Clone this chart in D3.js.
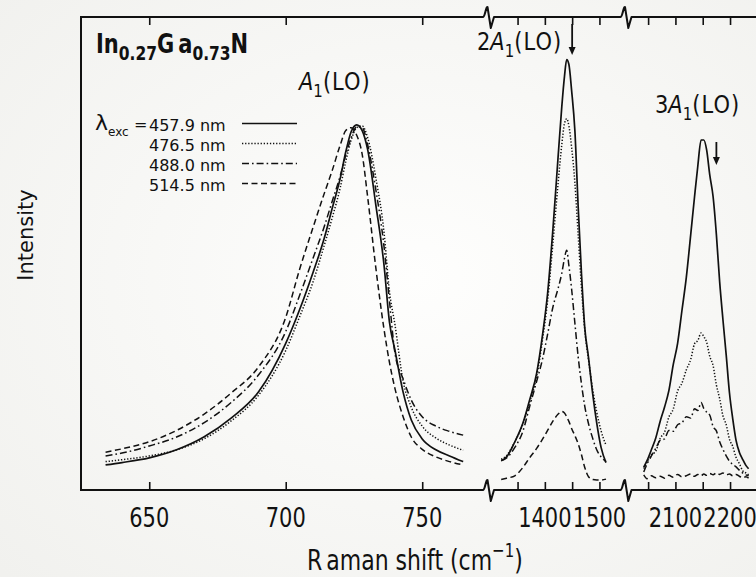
<!DOCTYPE html>
<html>
<head>
<meta charset="utf-8">
<script src="https://cdn.jsdelivr.net/npm/d3@7"></script>
<style>
  html, body { margin: 0; padding: 0; background: #f7f7f5; }
  svg { display: block; }
  text { font-family: "DejaVu Sans", sans-serif; fill: #111; }
</style>
</head>
<body>
<svg id="chart" width="756" height="577"></svg>
<script>
// ---- Raman spectra of In0.27Ga0.73N for four excitation wavelengths ----

// excitation lines (legend)
const excitation = ["457.9 nm", "476.5 nm", "488.0 nm", "514.5 nm"];

// A1(LO) region: Raman shift (cm-1) and intensities (arb. units, 0-100)
const shiftA1 = [634, 640, 650, 660, 670, 680, 690, 700, 705, 710, 714, 717, 720, 722,
                 724, 726, 728, 730, 733, 736, 738, 740, 743, 746, 750, 755, 760, 765];
const a1_4579 = [5.3, 5.8, 6.8, 8.5, 11.2, 15.2, 20.7, 31.0, 38.0, 46.0, 53.0, 59.5, 66.0, 71.5,
                 75.8, 77.2, 76.0, 72.0, 60.3, 47.6, 35.5, 29.6, 20.7, 14.8, 10.8, 8.5, 7.2, 6.0];
const a1_4765 = [6.0, 6.4, 7.2, 8.5, 10.8, 14.6, 20.0, 29.5, 36.5, 44.0, 51.5, 57.5, 64.0, 69.5,
                 74.0, 76.6, 77.0, 74.5, 66.0, 54.5, 42.0, 35.0, 23.0, 17.5, 13.5, 11.0, 9.5, 8.4];
const a1_4880 = [7.2, 7.8, 9.3, 11.2, 14.2, 18.5, 24.3, 33.5, 41.0, 49.0, 55.5, 61.0, 66.5, 70.8,
                 74.5, 76.8, 76.6, 73.0, 63.5, 51.5, 40.0, 29.0, 23.5, 19.0, 15.5, 13.5, 12.4, 11.6];
const a1_5145 = [8.0, 8.7, 10.2, 12.6, 16.0, 20.5, 26.0, 36.5, 46.5, 55.5, 62.5, 67.5, 73.0, 76.0,
                 76.6, 75.0, 71.0, 62.0, 47.0, 34.0, 27.0, 21.5, 15.5, 11.2, 8.6, 7.0, 6.0, 5.3];

// 2A1(LO) region
const shift2A1 = [1320, 1330, 1345, 1360, 1372, 1385, 1396, 1405, 1415, 1424, 1431, 1436,
                  1440, 1444, 1449, 1455, 1461, 1467, 1473, 1480, 1488, 1495, 1503, 1512];
const b_4579 = [6.2, 7.0, 10.2, 14.2, 19.0, 24.7, 33.0, 41.5, 55.5, 70.0, 81.0, 87.5,
                91.0, 90.0, 84.5, 76.0, 60.0, 46.0, 34.5, 28.0, 20.0, 14.2, 9.0, 5.8];
const b_4765 = [6.5, 7.3, 10.2, 14.0, 18.5, 24.0, 32.0, 40.0, 52.5, 64.5, 73.0, 77.5,
                78.5, 77.0, 72.5, 65.0, 54.0, 43.0, 34.0, 27.5, 21.0, 16.5, 12.5, 9.5];
const b_4880 = [6.2, 6.8, 9.0, 12.5, 17.6, 23.0, 27.8, 32.9, 38.8, 42.5, 45.8, 49.0,
                50.7, 47.5, 42.5, 35.3, 28.2, 22.5, 17.8, 14.0, 10.8, 8.5, 7.0, 6.0];
const b_5145 = [2.2, 2.5, 3.0, 4.8, 6.8, 8.8, 10.8, 12.6, 14.6, 16.0, 16.6, 16.3,
                15.5, 14.5, 13.0, 11.5, 9.8, 7.5, 4.8, 2.8, 2.2, 2.1, 2.1, 2.3];

// 3A1(LO) region
const shift3A1 = [2042, 2048, 2056, 2064, 2072, 2080, 2088, 2096, 2104, 2112, 2120, 2128, 2135, 2141, 2147,
                  2152, 2157, 2163, 2169, 2175, 2181, 2187, 2193, 2199, 2205, 2211, 2217, 2223, 2229, 2234];
const c_4579 = [4.8, 6.2, 8.5, 11.0, 14.5, 17.5, 21.0, 26.5, 31.0, 38.0, 45.0, 54.0, 62.0, 68.5, 74.0,
                74.0, 72.0, 66.5, 62.0, 54.0, 44.0, 36.0, 28.5, 20.5, 15.0, 10.5, 8.0, 6.5, 5.2, 4.5];
const c_4765 = [4.5, 5.8, 7.4, 8.2, 10.9, 12.2, 15.4, 17.1, 20.9, 22.6, 25.4, 27.6, 30.9, 31.6, 33.2,
                32.4, 31.3, 28.2, 26.3, 22.2, 19.3, 15.7, 13.8, 10.7, 9.2, 6.9, 5.6, 4.1, 3.6, 3.2];
const c_4880 = [3.8, 5.5, 7.2, 8.8, 10.5, 10.8, 12.6, 12.4, 13.8, 14.2, 15.5, 15.2, 17.2, 16.8, 18.5,
                17.2, 16.5, 15.8, 13.4, 12.5, 10.2, 8.6, 7.2, 6.1, 5.4, 4.9, 4.2, 3.6, 3.2, 3.0];
const c_5145 = [3.2, 2.4, 3.0, 2.6, 2.9, 2.5, 3.1, 2.7, 3.3, 2.8, 3.0, 3.4, 2.9, 3.3, 3.0,
                3.4, 3.1, 3.5, 3.2, 3.6, 3.3, 3.6, 3.2, 3.4, 3.0, 3.3, 2.9, 2.6, 2.8, 2.5];

// axis ticks per segment (labelled and unlabelled)
const ticksA1 = [650, 700, 750];
const ticks2A1 = [1350, 1400, 1450, 1500];
const ticks3A1 = [2050, 2100, 2150, 2200, 2250];
const labels2A1 = [1400, 1500];
const labels3A1 = [2100, 2200];

// ---------------------------------------------------------------------
const W = 756, H = 577;
const svg = d3.select("#chart");
const defs = svg.append("defs");
const bg = defs.append("radialGradient").attr("id", "bg")
  .attr("cx", "55%").attr("cy", "48%").attr("r", "75%");
bg.append("stop").attr("offset", "0%").attr("stop-color", "#fefefd");
bg.append("stop").attr("offset", "100%").attr("stop-color", "#f1f1ee");
svg.append("rect").attr("width", W).attr("height", H).attr("fill", "url(#bg)");

const yTop = 17, yBot = 490, xLeft = 81;
const y = d3.scaleLinear().domain([0, 100]).range([yBot, yTop]);

const segments = [
  { x: d3.scaleLinear().domain([625, 773]).range([81, 485]), shift: shiftA1,
    series: [a1_4579, a1_4765, a1_4880, a1_5145], ticks: ticksA1, labels: ticksA1 },
  { x: d3.scaleLinear().domain([1305, 1545]).range([493, 624]), shift: shift2A1,
    series: [b_4579, b_4765, b_4880, b_5145], ticks: ticks2A1, labels: labels2A1 },
  { x: d3.scaleLinear().domain([2015, 2275]).range([629, 771]), shift: shift3A1,
    series: [c_4579, c_4765, c_4880, c_5145], ticks: ticks3A1, labels: labels3A1 }
];

const styles = [
  { dash: null, width: 1.7 },
  { dash: "1.3,1.8", width: 1.5 },
  { dash: "7,3,1.6,3", width: 1.5 },
  { dash: "6,3.5", width: 1.5 }
];

// spectra
segments.forEach(seg => {
  const g = svg.append("g");
  seg.series.forEach((vals, k) => {
    const line = d3.line()
      .x((d, i) => seg.x(seg.shift[i]))
      .y(d => y(d))
      .curve(d3.curveMonotoneX);
    g.append("path")
      .attr("d", line(vals))
      .attr("fill", "none")
      .attr("stroke", "#111")
      .attr("stroke-width", styles[k].width)
      .attr("stroke-dasharray", styles[k].dash)
      .attr("stroke-linejoin", "round");
  });
});

// frame: broken horizontal axes, left axis
const breaks = [
  (segments[0].x.range()[1] + segments[1].x.range()[0]) / 2,
  (segments[1].x.range()[1] + segments[2].x.range()[0]) / 2
];
function brokenAxis(y0) {
  let p = `M${xLeft},${y0}`;
  breaks.forEach(cx => {
    p += `L${cx - 6},${y0} C${cx - 4},${y0} ${cx - 3},${y0 - 11} ${cx - 1.5},${y0 - 10}`;
    p += ` L${cx + 1.8},${y0 + 11} L${cx + 5},${y0}`;
  });
  p += `L${W + 10},${y0}`;
  return p;
}
[yBot, yTop].forEach(y0 => {
  svg.append("path").attr("d", brokenAxis(y0))
    .attr("fill", "none").attr("stroke", "#111").attr("stroke-width", 2)
    .attr("stroke-linejoin", "round");
});
svg.append("line").attr("x1", xLeft).attr("x2", xLeft).attr("y1", yTop - 1).attr("y2", yBot + 1)
  .attr("stroke", "#111").attr("stroke-width", 2);

// inward ticks on bottom and top
segments.forEach(seg => {
  const bottom = svg.append("g").attr("transform", `translate(0,${yBot})`)
    .call(d3.axisBottom(seg.x).tickValues(seg.ticks).tickSize(-8).tickFormat(""));
  const top = svg.append("g").attr("transform", `translate(0,${yTop})`)
    .call(d3.axisTop(seg.x).tickValues(seg.ticks).tickSize(-8).tickFormat(""));
  [bottom, top].forEach(a => {
    a.select(".domain").remove();
    a.selectAll(".tick line").attr("stroke", "#111").attr("stroke-width", 1.6);
  });
  // tick labels
  seg.labels.forEach(v => {
    svg.append("text")
      .attr("transform", `translate(${seg.x(v)},527) scale(1,1.3)`)
      .attr("text-anchor", "middle")
      .attr("font-size", 21)
      .text(v);
  });
});

// axis titles
const xt = svg.append("text")
  .attr("transform", "translate(307,570) scale(1,1.3)")
  .attr("font-size", 22);
xt.append("tspan").text("R");
xt.append("tspan").attr("dx", 4).text("aman shift (cm");
xt.append("tspan").attr("font-size", 15).attr("dy", -10).text("−1");
xt.append("tspan").attr("dy", 10).text(")");

svg.append("text")
  .attr("transform", "translate(33,235) rotate(-90)")
  .attr("text-anchor", "middle")
  .attr("font-size", 21)
  .text("Intensity");

// sample composition
const title = svg.append("text")
  .attr("transform", "translate(96,53) scale(1,1.3)")
  .attr("font-size", 21).attr("font-weight", "bold");
title.append("tspan").text("In");
title.append("tspan").attr("font-size", 15.5).attr("dy", 5).text("0.27");
title.append("tspan").attr("dy", -5).text("G");
title.append("tspan").attr("dx", 4).text("a");
title.append("tspan").attr("font-size", 15.5).attr("dy", 5).text("0.73");
title.append("tspan").attr("dy", -5).text("N");

// legend
const lam = svg.append("text").attr("x", 95).attr("y", 130).attr("font-size", 22);
lam.append("tspan").text("λ");
lam.append("tspan").attr("font-size", 12).attr("dy", 6).text("exc");
svg.append("text").attr("x", 134).attr("y", 130).attr("font-size", 16).text("=");
excitation.forEach((lab, k) => {
  const yy = 130.5 + k * 20;
  svg.append("text").attr("x", 149).attr("y", yy).attr("font-size", 16).text(lab);
  svg.append("line")
    .attr("x1", 242).attr("x2", 297).attr("y1", yy - 7).attr("y2", yy - 7)
    .attr("stroke", "#111").attr("stroke-width", styles[k].width)
    .attr("stroke-dasharray", styles[k].dash);
});

// phonon labels
function phononLabel(x0, y0, prefix) {
  const t = svg.append("text").attr("transform", `translate(${x0},${y0}) scale(1,1.15)`)
    .attr("font-size", 21);
  if (prefix) t.append("tspan").text(prefix);
  t.append("tspan").attr("font-style", "italic").text("A");
  t.append("tspan").attr("font-size", 15).attr("dy", 6).text("1");
  t.append("tspan").attr("dy", -6).attr("letter-spacing", 1).text("(LO)");
}
phononLabel(299, 90, "");
phononLabel(477, 50, "2");
phononLabel(655, 113, "3");

// arrows marking 2×725 and 3×725 cm-1
function arrow(xa, y1, y2) {
  svg.append("line").attr("x1", xa).attr("x2", xa).attr("y1", y1).attr("y2", y2 - 6)
    .attr("stroke", "#111").attr("stroke-width", 1.8);
  svg.append("path")
    .attr("d", `M${xa - 3.5},${y2 - 8} L${xa + 3.5},${y2 - 8} L${xa},${y2} Z`)
    .attr("fill", "#111");
}
arrow(segments[1].x(1450), 24, 55);
arrow(segments[2].x(2175), 142, 165);
</script>
</body>
</html>
